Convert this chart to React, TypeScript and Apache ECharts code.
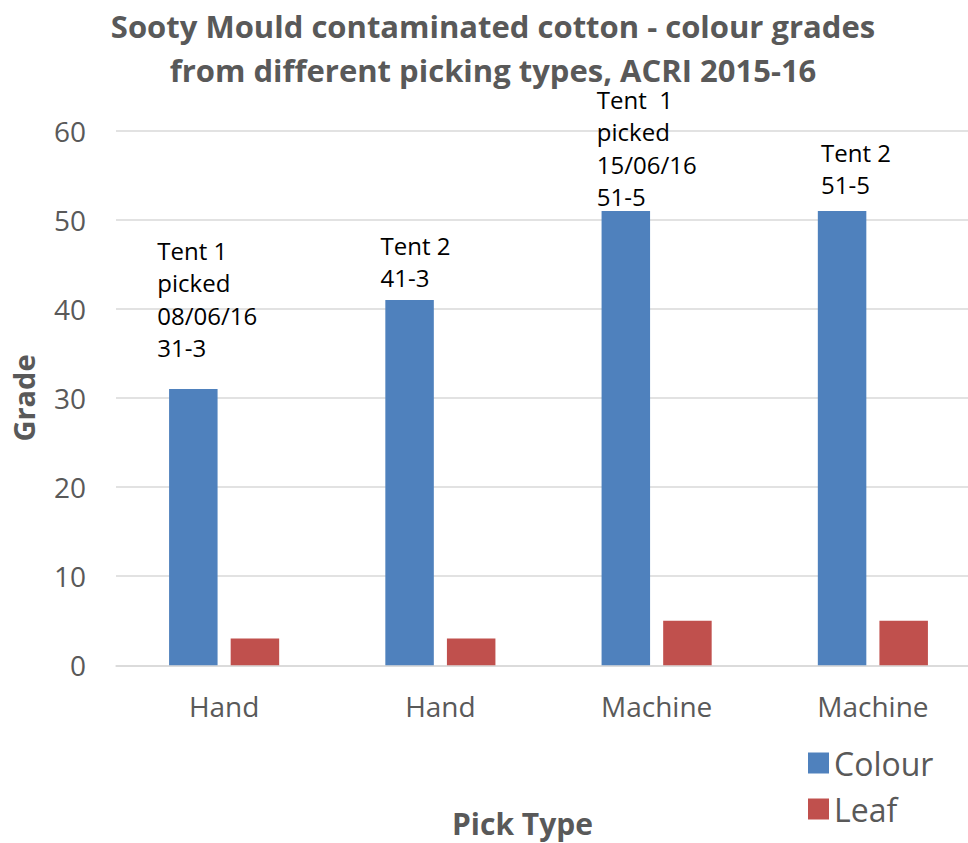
import React, { useEffect, useRef } from "react";
import * as echarts from "echarts";

const categories = ["Hand", "Hand", "Machine", "Machine"];
const colourValues = [31, 41, 51, 51];
const leafValues = [3, 3, 5, 5];
const labelTexts = [
  "Tent 1\npicked\n08/06/16\n31-3",
  "Tent 2\n41-3",
  "Tent\u00a0\u00a01\npicked\n15/06/16\n51-5",
  "Tent 2\n51-5",
];
const yTicks = { min: 0, max: 60, interval: 10 };

// label placement (pixels relative to bar top centre)
const labelOffsets: [number, number][] = [
  [-36, -25],
  [-29, -6],
  [-29, 2],
  [-21, -10],
];

const FONT = "'Open Sans', 'Noto Sans', sans-serif";
const GREY = "#595959";

export default function App() {
  const ref = useRef<HTMLDivElement>(null);
  useEffect(() => {
    if (!ref.current) return;
    const chart = echarts.init(ref.current, undefined, { renderer: "svg" });
    chart.setOption({
      animation: false,
      backgroundColor: "#ffffff",
      title: {
        text: "Sooty Mould contaminated cotton - colour grades\nfrom different picking types, ACRI 2015-16",
        left: 488,
        top: -1,
        textAlign: "center",
        textStyle: {
          fontFamily: FONT,
          fontWeight: "bold",
          fontSize: 31,
          lineHeight: 44,
          color: GREY,
        },
      },
      legend: {
        orient: "vertical",
        left: 803,
        top: 735,
        itemWidth: 21,
        itemHeight: 21,
        itemGap: 0,
        icon: "rect",
        data: ["Colour", "Leaf"],
        textStyle: {
          fontFamily: FONT,
          fontSize: 32,
          lineHeight: 46,
          color: GREY,
        },
      },
      grid: {
        left: 116,
        top: 130.7,
        width: 865,
        height: 534.6,
        containLabel: false,
        outerBoundsMode: "none",
      },
      xAxis: {
        type: "category",
        data: categories,
        name: "Pick Type",
        nameLocation: "middle",
        nameGap: 143,
        nameTextStyle: {
          fontFamily: FONT,
          fontWeight: "bold",
          fontSize: 30,
          color: GREY,
          padding: [0, 52, 0, 0],
        },
        axisLine: { lineStyle: { color: "#D9D9D9", width: 1.5 } },
        axisTick: { show: false },
        axisLabel: {
          fontFamily: FONT,
          fontSize: 28,
          color: GREY,
          margin: 27,
        },
      },
      yAxis: {
        type: "value",
        min: yTicks.min,
        max: yTicks.max,
        interval: yTicks.interval,
        name: "Grade",
        nameLocation: "middle",
        nameGap: 78,
        nameTextStyle: {
          fontFamily: FONT,
          fontWeight: "bold",
          fontSize: 29,
          color: GREY,
        },
        axisLine: { show: false },
        axisTick: { show: false },
        splitLine: { lineStyle: { color: "#D9D9D9", width: 1.5 } },
        axisLabel: {
          fontFamily: FONT,
          fontSize: 28,
          color: GREY,
          margin: 30,
        },
      },
      series: [
        {
          name: "Colour",
          type: "bar",
          barWidth: 48.5,
          barGap: "27%",
          itemStyle: { color: "#4F81BD" },
          data: colourValues.map((v, i) => ({
            value: v,
            label: {
              show: true,
              position: "top",
              distance: 0,
              align: "left",
              offset: labelOffsets[i],
              formatter: labelTexts[i],
              fontFamily: FONT,
              fontSize: 24,
              lineHeight: 32.5,
              color: "#000000",
            },
          })),
        },
        {
          name: "Leaf",
          type: "bar",
          barWidth: 48.5,
          barGap: "27%",
          itemStyle: { color: "#C0504D" },
          data: leafValues,
        },
      ],
    });
    return () => chart.dispose();
  }, []);
  return (
    <div
      ref={ref}
      style={{ position: "fixed", left: 0, top: 0, width: 968, height: 843 }}
    />
  );
}
